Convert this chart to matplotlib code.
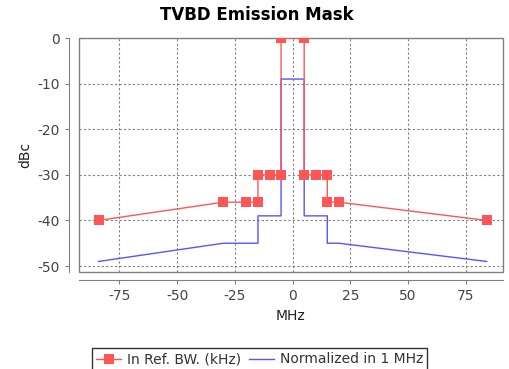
import matplotlib.pyplot as plt
from matplotlib.patches import Rectangle

plt.rcParams['axes.unicode_minus'] = False

# mask in reference bandwidth (kHz)
ref_x = [-84, -30, -20, -15, -15, -10, -5, -5, 5, 5, 10, 15, 15, 20, 84]
ref_y = [-40, -36, -36, -36, -30, -30, -30, 0, 0, -30, -30, -30, -36, -36, -40]
# normalized in 1 MHz
norm_x = [-84, -30, -15, -15, -5, -5, 5, 5, 15, 15, 20, 84]
norm_y = [-49, -45, -45, -39, -39, -9, -9, -39, -39, -45, -45, -49]

xticks = [-75, -50, -25, 0, 25, 50, 75]
yticks = [0, -10, -20, -30, -40, -50]

red = '#ff5555'
blue = '#5555ff'
grey = '#808080'

fig = plt.figure(figsize=(5.09, 3.69), dpi=100)
ax = fig.add_axes([0.155, 0.263, 0.833, 0.634])

ax.plot(ref_x, ref_y, color=red, lw=1, marker='s', markersize=6.5, markeredgewidth=0,
        label='In Ref. BW. (kHz)', zorder=4)
ax.plot(norm_x, norm_y, color=blue, lw=1, label='Normalized in 1 MHz', zorder=3)

ax.set_xlim(-92.5, 91)
ax.set_ylim(-51.3, 0)
ax.set_xticks(xticks)
ax.set_yticks(yticks)
ax.grid(True, color=grey, linestyle=(0, (2, 2)), linewidth=0.8)

for s in ['top', 'right']:
    ax.spines[s].set_visible(False)
ax.spines['left'].set_position(('outward', 7))
ax.spines['bottom'].set_position(('outward', 6))
for s in ['left', 'bottom']:
    ax.spines[s].set_color(grey)
ax.add_patch(Rectangle((0, 0), 1, 1, transform=ax.transAxes, fill=False,
                       edgecolor=grey, lw=1, clip_on=False, zorder=2))
ax.tick_params(colors=grey, labelcolor='#444444', labelsize=10, length=3)

ax.set_xlabel('MHz', fontsize=10, color='#222222')
ax.set_ylabel('dBc', fontsize=10, color='#222222')
fig.suptitle('TVBD Emission Mask', x=0.505, y=0.985, fontsize=12, fontweight='bold')

leg = fig.legend(loc='upper center', bbox_to_anchor=(0.51, 0.075), ncol=2,
                 fontsize=10, frameon=True, fancybox=False, edgecolor='black',
                 handlelength=1.8, handletextpad=0.4, columnspacing=0.6,
                 borderpad=0.3, labelcolor='#333333')
leg.get_frame().set_linewidth(1)

fig.savefig('out.png', dpi=100)
